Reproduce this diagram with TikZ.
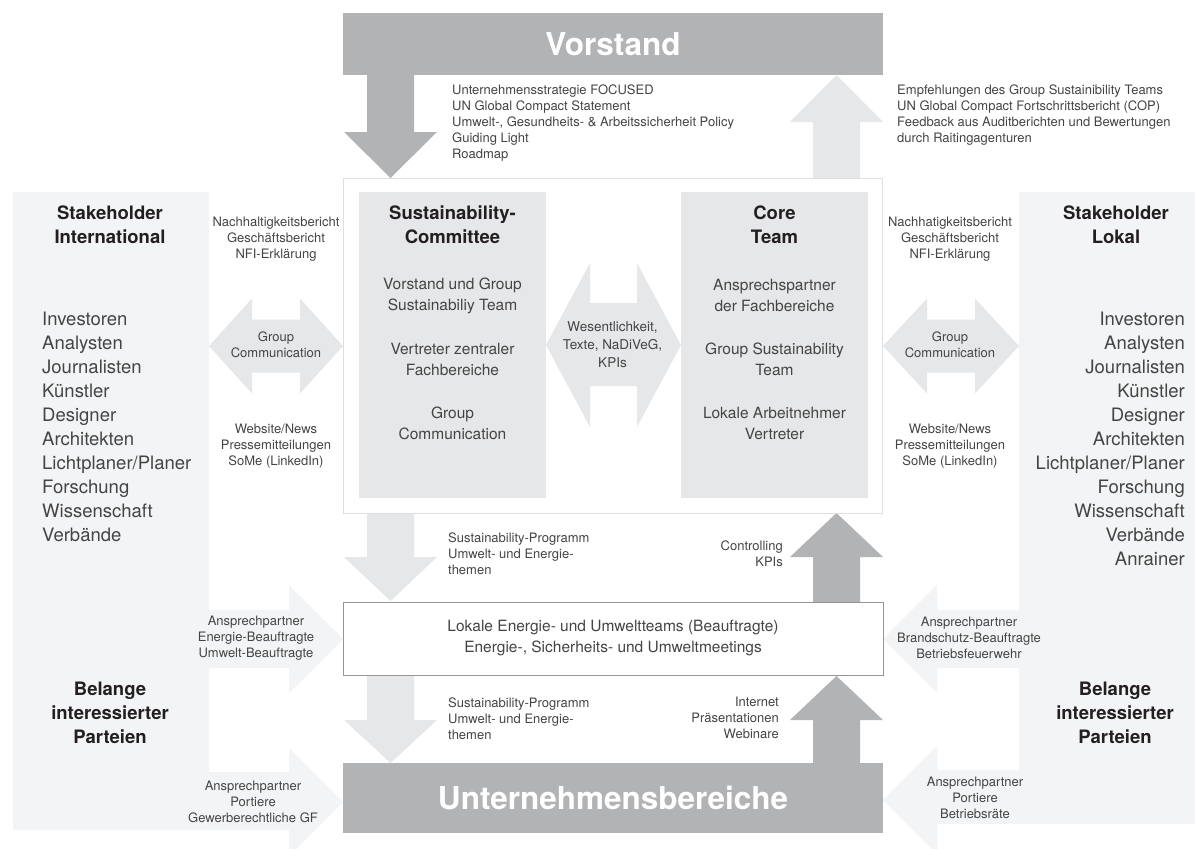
\documentclass[tikz,border=0pt]{standalone}
\usepackage{fontspec}
\setmainfont{TeX Gyre Heros}
\definecolor{darkg}{RGB}{178,179,181}
\definecolor{lightg}{RGB}{230,231,232}
\definecolor{panelg}{RGB}{243,244,245}
\definecolor{txt}{RGB}{68,68,68}
\definecolor{headc}{RGB}{35,31,32}
\definecolor{cbord}{RGB}{222,223,224}
\definecolor{lbord}{RGB}{150,150,150}
\newcommand\fsmall{\fontsize{13}{16}\selectfont}
\newcommand\fwes{\fontsize{13.5}{18}\selectfont}
\newcommand\fbody{\fontsize{15.5}{21}\selectfont}
\newcommand\flist{\fontsize{18.5}{24}\selectfont}
\newcommand\fhead{\fontsize{18.5}{24}\selectfont\bfseries}
\newcommand\fbig{\fontsize{31.5}{36}\selectfont\bfseries}
\begin{document}
\begin{tikzpicture}[x=1pt,y=-1pt,
  lbl/.style={inner sep=0, text=txt, font=\fsmall},
  bodytxt/.style={inner sep=0, text=txt, font=\fbody, align=center},
  listtxt/.style={inner sep=0, text=txt, font=\flist},
  headtxt/.style={inner sep=0, text=headc, font=\fhead, align=center},
  bigbox/.style={fill=darkg, inner sep=0, minimum width=540pt, text=white, font=\fbig},
  panel/.style={fill=panelg, inner sep=0},
  inbox/.style={fill=lightg, inner sep=0, minimum width=187pt, minimum height=306pt},
  darkarrow/.style={fill=darkg},
  lightarrow/.style={fill=lightg},
  sidearrow/.style={fill=panelg}
]
\useasboundingbox[fill=white] (0,0) rectangle (1195,849);

% stakeholder panels
\node[panel, minimum width=196pt, minimum height=638pt] (leftpanel) at (111,511) {};
\node[panel, minimum width=176pt, minimum height=632pt] (rightpanel) at (1107,508) {};

% side arrows (same tone as panels)
\fill[sidearrow] (209,610) -- (289,610) -- (289,585) -- (343,639) -- (289,693) -- (289,668) -- (209,668) -- cycle;
\fill[sidearrow] (209,772) -- (289,772) -- (289,748) -- (343,802) -- (289,856) -- (289,830) -- (209,830) -- cycle;
\fill[sidearrow] (1019,610) -- (937,610) -- (937,585) -- (883,639) -- (937,693) -- (937,668) -- (1019,668) -- cycle;
\fill[sidearrow] (1019,770) -- (937,770) -- (937,746) -- (883,800) -- (937,854) -- (937,824) -- (1019,824) -- cycle;

% vertical arrows
\fill[darkarrow] (367,74) -- (414,74) -- (414,132) -- (437,132) -- (390.5,178) -- (344,132) -- (367,132) -- cycle;
\fill[lightarrow] (813,178) -- (860,178) -- (860,122) -- (883,122) -- (836.5,75) -- (790,122) -- (813,122) -- cycle;
\fill[lightarrow] (367,513) -- (414,513) -- (414,557) -- (437,557) -- (390.5,601) -- (344,557) -- (367,557) -- cycle;
\fill[darkarrow] (813,602) -- (860,602) -- (860,557) -- (883,557) -- (836.5,513) -- (790,557) -- (813,557) -- cycle;
\fill[lightarrow] (367,675) -- (414,675) -- (414,720) -- (437,720) -- (390.5,763) -- (344,720) -- (367,720) -- cycle;
\fill[darkarrow] (813,764) -- (860,764) -- (860,720) -- (883,720) -- (836.5,676) -- (790,720) -- (813,720) -- cycle;

% main boxes
\node[bigbox, minimum height=62pt] (vorstand) at (613,44) {Vorstand};
\node[draw=cbord, line width=0.8pt, fill=white, inner sep=0, minimum width=539pt, minimum height=335pt] (central) at (612.5,345.5) {};
\node[inbox] (sc) at (452.5,345) {};
\node[inbox] (core) at (774.5,345) {};
\node[draw=lbord, line width=0.6pt, fill=white, inner sep=0, minimum width=540pt, minimum height=73pt] (lokale) at (613,638.5) {};
\node[bigbox, minimum height=70pt] (ub) at (613,798) {Unternehmensbereiche};

% horizontal double arrows
\fill[lightarrow] (209,346) -- (252,298.5) -- (252,319.5) -- (300,319.5) -- (300,298.5) -- (343,346) -- (300,393.5) -- (300,372.5) -- (252,372.5) -- (252,393.5) -- cycle;
\fill[lightarrow] (883,346) -- (927,298.5) -- (927,319.5) -- (975,319.5) -- (975,298.5) -- (1019,346) -- (975,393.5) -- (975,372.5) -- (927,372.5) -- (927,393.5) -- cycle;
\fill[lightarrow] (546,345) -- (590,263) -- (590,303) -- (637,303) -- (637,263) -- (681,345) -- (637,427) -- (637,386) -- (590,386) -- (590,427) -- cycle;

% texts top
\node[lbl, anchor=west, align=left] (strat) at (452,123) {Unternehmensstrategie FOCUSED\\UN Global Compact Statement\\Umwelt-, Gesundheits- \& Arbeitssicherheit Policy\\Guiding Light\\Roadmap};
\node[lbl, anchor=west, align=left] (empf) at (897,115) {Empfehlungen des Group Sustainibility Teams\\UN Global Compact Fortschrittsbericht (COP)\\Feedback aus Auditberichten und Bewertungen\\durch Raitingagenturen};

% stakeholder headings
\node[headtxt] (stint) at (110,225) {Stakeholder\\International};
\node[headtxt] (stlok) at (1116,225) {Stakeholder\\Lokal};
\node[headtxt] (belL) at (110,713) {Belange\\interessierter\\Parteien};
\node[headtxt] (belR) at (1115,713) {Belange\\interessierter\\Parteien};

% lists
\node[listtxt, anchor=west, align=left] (listL) at (42,427) {Investoren\\Analysten\\Journalisten\\Künstler\\Designer\\Architekten\\Lichtplaner/Planer\\Forschung\\Wissenschaft\\Verbände};
\node[listtxt, anchor=east, align=right] (listR) at (1185,439) {Investoren\\Analysten\\Journalisten\\Künstler\\Designer\\Architekten\\Lichtplaner/Planer\\Forschung\\Wissenschaft\\Verbände\\Anrainer};

% communication labels
\node[lbl, align=center] (berL) at (276,239) {Nachhaltigkeitsbericht\\Geschäftsbericht\\NFI-Erklärung};
\node[lbl, align=center] (berR) at (950,239) {Nachhatigkeitsbericht\\Geschäftsbericht\\NFI-Erklärung};
\node[lbl, align=center] (gcL) at (276,345) {Group\\Communication};
\node[lbl, align=center] (gcR) at (950,345) {Group\\Communication};
\node[lbl, align=center] (webL) at (276,446) {Website/News\\Pressemitteilungen\\SoMe (LinkedIn)};
\node[lbl, align=center] (webR) at (950,446) {Website/News\\Pressemitteilungen\\SoMe (LinkedIn)};

% committee and core team
\node[headtxt] (scH) at (452.5,225) {Sustainability-\\Committee};
\node[headtxt] (coreH) at (774.5,225) {Core\\Team};
\node[bodytxt] (sc1) at (452.5,295.5) {Vorstand und Group\\Sustainabiliy Team};
\node[bodytxt] (sc2) at (452.5,359.5) {Vertreter zentraler\\Fachbereiche};
\node[bodytxt] (sc3) at (452.5,423.5) {Group\\Communication};
\node[bodytxt] (co1) at (774.5,295.5) {Ansprechspartner\\der Fachbereiche};
\node[bodytxt] (co2) at (774.5,359.5) {Group Sustainability\\Team};
\node[bodytxt] (co3) at (774.5,423.5) {Lokale Arbeitnehmer\\Vertreter};
\node[inner sep=0, text=txt, font=\fwes, align=center] (wes) at (612.5,345) {Wesentlichkeit,\\Texte, NaDiVeG,\\KPIs};

% lower labels
\node[lbl, anchor=west, align=left] (sp1) at (448,554) {Sustainability-Programm\\Umwelt- und Energie-\\themen};
\node[lbl, anchor=west, align=left] (sp2) at (448,719) {Sustainability-Programm\\Umwelt- und Energie-\\themen};
\node[lbl, anchor=east, align=right] (ctrl) at (783,554) {Controlling\\KPIs};
\node[lbl, anchor=east, align=right] (inet) at (779,718) {Internet\\Präsentationen\\Webinare};
\node[bodytxt] (lokT) at (613,638.5) {Lokale Energie- und Umweltteams (Beauftragte)\\Energie-, Sicherheits- und Umweltmeetings};

\node[lbl, align=center] (apL1) at (256,638) {Ansprechpartner\\Energie-Beauftragte\\Umwelt-Beauftragte};
\node[lbl, align=center] (apR1) at (969,638) {Ansprechpartner\\Brandschutz-Beauftragte\\Betriebsfeuerwehr};
\node[lbl, align=center] (apL2) at (253,802) {Ansprechpartner\\Portiere\\Gewerberechtliche GF};
\node[lbl, align=center] (apR2) at (975,798) {Ansprechpartner\\Portiere\\Betriebsräte};
\end{tikzpicture}
\end{document}
